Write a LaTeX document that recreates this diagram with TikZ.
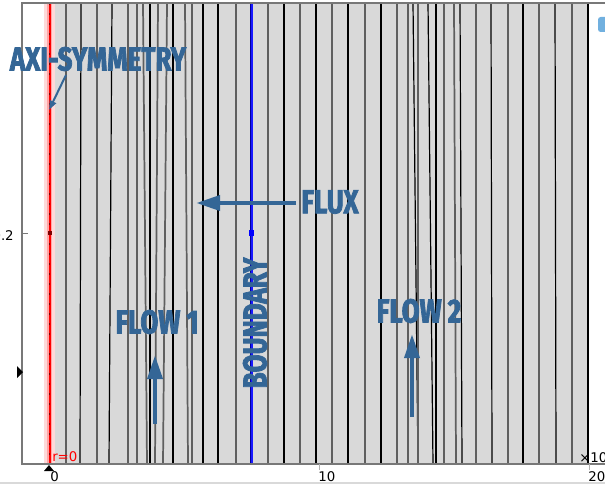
\documentclass[tikz,border=0pt]{standalone}
\usepackage{fontspec}
\usepackage{tikz}
\usetikzlibrary{arrows.meta}
\newfontfamily\lblfont[FakeStretch=0.78,BoldFeatures={FakeBold=2.2}]{Fira Sans}
\newfontfamily\axfont{DejaVu Sans}
\definecolor{lblblue}{RGB}{52,102,150}
\definecolor{meshbg}{RGB}{217,217,217}
\definecolor{meshgray}{RGB}{95,95,95}
\definecolor{framegray}{RGB}{120,120,120}

\begin{document}
\begin{tikzpicture}[x=0.75pt,y=-0.75pt,
    lbl/.style={text=lblblue,inner sep=0pt,font=\lblfont\bfseries\fontsize{25}{25}\selectfont},
    axlbl/.style={inner sep=0pt,font=\axfont\fontsize{10}{10}\selectfont},
    flowarrow/.style={draw=lblblue,line width=3.4pt,-{Triangle[width=11pt,length=18pt]}},
    thinarrow/.style={draw=lblblue,line width=1.5pt,-{Triangle[width=5pt,length=7pt]}},
    mb/.style={black,line width=0.9pt},
    mg/.style={meshgray,line width=1.3pt}]
    \useasboundingbox (0,0) rectangle (605,485);
    % domain and mesh
    \fill[meshbg] (49,3) rectangle (588,464);
    \foreach \xt/\xb/\st in {66/66/mg,81/80/mb,97/97/mg,112/109/mb,128/128/mg,137/137/mg,
        143/147/mg,150/150/mb,158/155/mg,167/163/mg,173/173/mb,185/188/mg,192/192/mg,
        203/203/mb,218/218/mb,236/236/mg,268/268/mg,284/284/mb,300/300/mg,316/316/mb,
        332/332/mg,348/348/mb,365/365/mg,381/381/mb,397/397/mg,408/408/mg,413/418/mb,
        418/418/mg,428/433/mb,436/436/mb,444/444/mg,454/456/mg,460/462/mb,476/476/mg,
        491/492/mb,508/508/mg,523/523/mb,539/539/mg,555/556/mb,572/572/mg}
        \draw[\st] (\xt,3) -- (\xb,464);
    \draw[black,line width=1.5pt] (587.5,3) -- (587.5,464);
    % axi-symmetry line r=0
    \fill[red!15] (44,3) rectangle (55,464);
    \fill[red!35] (47,3) rectangle (52,464);
    \draw[red,line width=1.5pt] (49.5,3) -- (49.5,464);
    \draw[red!50!black,line width=1pt,dash pattern=on 1.5pt off 6pt] (49.5,3) -- (49.5,464);
    \fill[red!50!black] (47.5,231) rectangle (51.5,235);
    % boundary line
    \draw[blue!60!black,line width=2.6pt] (251.5,3) -- (251.5,464);
    \draw[blue!90!white,line width=1.4pt] (252,3) -- (252,464);
    \fill[blue] (249,230) rectangle (254,236);
    % frame and ticks
    \draw[framegray,line width=1.5pt] (605,3) -- (22,3) -- (22,464) -- (605,464);
    \draw[gray!30,line width=1pt] (0,483) -- (605,483);
    \draw[framegray,line width=0.75pt] (22,233) -- (28,233);
    \draw[gray!60,line width=0.75pt] (319,464) -- (319,470);
    \draw[gray!60,line width=0.75pt] (589,464) -- (589,470);
    \fill[black] (44,471) -- (54,471) -- (49,465) -- cycle;
    \fill[black] (17,366) -- (17,378) -- (23,372) -- cycle;
    \fill[cyan!60!blue,opacity=0.6,rounded corners=2pt] (598,17) rectangle (612,32);
    % axis labels
    \node[axlbl,anchor=east] (ytick) at (14,236) {0.2};
    \node[axlbl,anchor=north west] (x0) at (50,471) {0};
    \node[axlbl,anchor=north west] (x10) at (318,471) {10};
    \node[axlbl,anchor=north west] (x20) at (588,471) {20};
    \node[axlbl,anchor=west] (xscl) at (579,458) {×10};
    \node[axlbl,anchor=west,text=red] (rzero) at (52,457) {r=0};
    % labels
    \node[lbl] (axi) at (98,59) {AXI-SYMMETRY};
    \node[lbl] (flux) at (330,202) {FLUX};
    \node[lbl] (flow1) at (157,322) {FLOW 1};
    \node[lbl] (flow2) at (419,311) {FLOW 2};
    \node[lbl,rotate=90] (bnd) at (255,323) {BOUNDARY};
    % arrows
    \coordinate (axitip) at (49,110);
    \coordinate (fluxtip) at (196,203);
    \coordinate (flow1tail) at (155,424);
    \coordinate (flow1tip) at (155,355);
    \coordinate (flow2tail) at (412,417);
    \coordinate (flow2tip) at (412,334);
    \draw[thinarrow] (66,75) -- (axitip);
    \draw[flowarrow] (flux.west) ++(-5,1) -- (fluxtip);
    \draw[flowarrow] (flow1tail) -- (flow1tip);
    \draw[flowarrow] (flow2tail) -- (flow2tip);
\end{tikzpicture}
\end{document}
